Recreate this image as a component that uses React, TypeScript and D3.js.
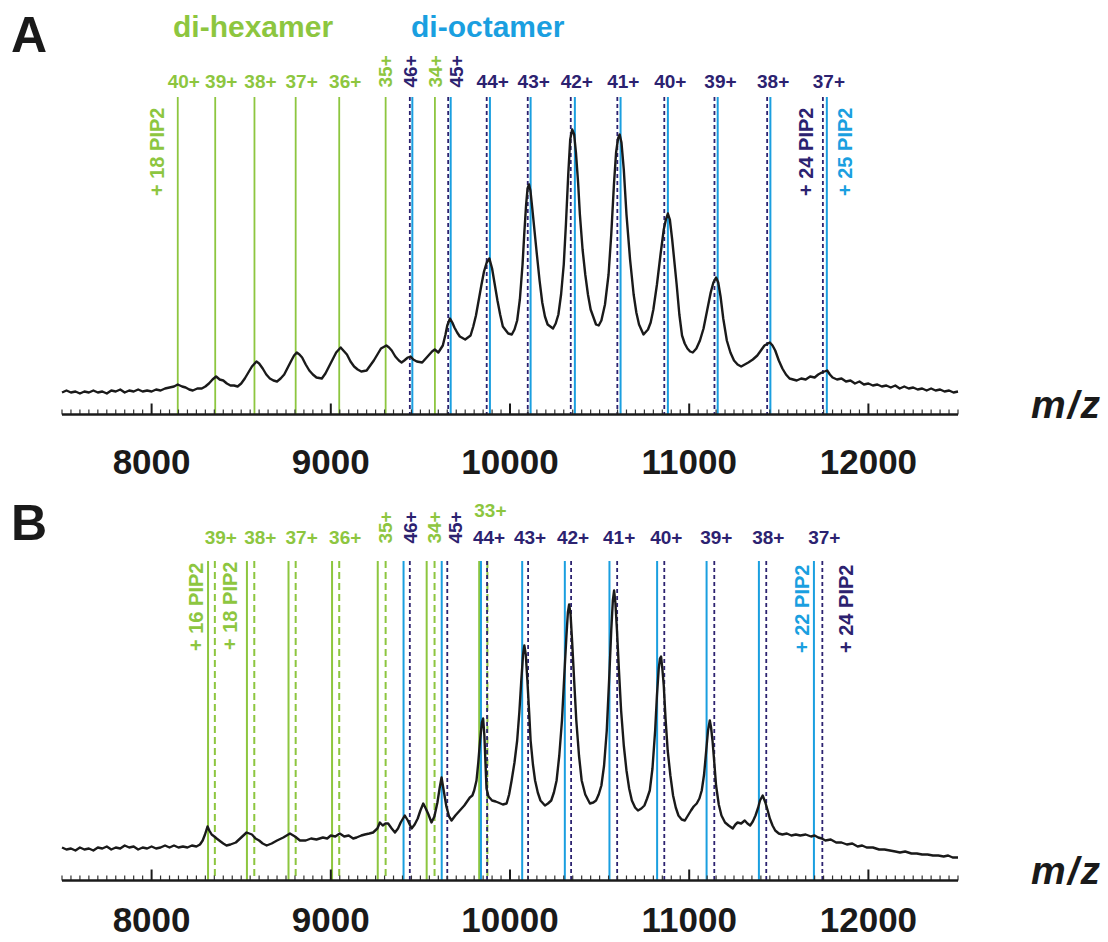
import React, { useEffect, useRef } from 'react';
import * as d3 from 'd3';

const GREEN = '#8dc63f';
const BLUE = '#1a9fe0';
const NAVY = '#2c2270';
const INK = '#1a1a1a';
const FONT = '"Liberation Sans", Arial, Helvetica, sans-serif';

// m/z axis
const mzDomain = [7500, 12500];
const majorTicks = [8000, 9000, 10000, 11000, 12000];
const minorStep = 50;

// charge states
const hexChargesA = [40, 39, 38, 37, 36, 35, 34];
const hexChargesB = [39, 38, 37, 36, 35, 34, 33];
const octCharges = [46, 45, 44, 43, 42, 41, 40, 39, 38, 37];

// panel A marker positions (m/z)
const hexA18 = [8146, 8355, 8574, 8804, 9047, 9306, 9581];
const octA24 = [9441, 9655, 9870, 10099, 10339, 10599, 10861, 11141, 11435, 11746];
const octA25 = [9455, 9669, 9888, 10115, 10362, 10617, 10881, 11159, 11453, 11768];

// panel B marker positions (m/z)
const hexB16 = [8315, 8532, 8764, 9007, 9262, 9535, 9828];
const hexB18 = [8353, 8573, 8804, 9047, 9306, 9579, 9874];
const octB22 = [9406, 9619, 9838, 10068, 10306, 10555, 10821, 11097, 11389, 11696];
const octB24 = [9441, 9650, 9872, 10101, 10341, 10598, 10861, 11140, 11430, 11743];

// spectra, [m/z, intensity (a.u.)]
const traceA: [number, number][] = [
  [7500, 22], [7525, 24], [7550, 22], [7575, 23], [7600, 21], [7625, 23], [7650, 22],
  [7675, 24], [7700, 22], [7725, 23], [7750, 21], [7775, 24], [7800, 23], [7825, 25],
  [7850, 22], [7875, 24], [7900, 23], [7925, 25], [7950, 23], [7975, 24], [8000, 23],
  [8025, 25], [8050, 24], [8075, 26], [8100, 27], [8125, 28], [8146, 30], [8170, 28],
  [8190, 27], [8210, 25], [8230, 24], [8255, 26], [8280, 26], [8300, 28], [8320, 31],
  [8340, 35], [8360, 38], [8380, 35], [8400, 34], [8420, 31], [8440, 29], [8460, 29],
  [8480, 28], [8500, 31], [8520, 36], [8540, 42], [8560, 48], [8585, 53], [8600, 51],
  [8620, 46], [8640, 40], [8660, 36], [8680, 34], [8700, 33], [8720, 36], [8740, 40],
  [8760, 47], [8780, 54], [8795, 59], [8810, 62], [8825, 60], [8840, 57], [8860, 50],
  [8880, 44], [8900, 40], [8920, 37], [8950, 36], [8970, 41], [8990, 48], [9010, 55],
  [9030, 62], [9055, 67], [9070, 64], [9090, 60], [9110, 53], [9130, 48], [9150, 45],
  [9170, 43], [9200, 44], [9220, 49], [9240, 54], [9260, 60], [9280, 66], [9310, 69],
  [9325, 67], [9340, 64], [9360, 58], [9380, 54], [9395, 52], [9410, 54], [9430, 57],
  [9445, 58], [9460, 55], [9480, 53], [9510, 52], [9530, 56], [9545, 59], [9565, 63],
  [9580, 65], [9600, 62], [9625, 69], [9640, 80], [9650, 89], [9665, 96], [9678, 92],
  [9690, 87], [9705, 82], [9720, 78], [9750, 75], [9780, 79], [9795, 88], [9810, 99],
  [9825, 114], [9840, 129], [9855, 143], [9870, 152], [9885, 156], [9900, 146],
  [9915, 130], [9930, 114], [9945, 100], [9960, 88], [9990, 81], [10010, 80], [10025, 85],
  [10040, 94], [10055, 115], [10070, 150], [10080, 182], [10090, 210], [10098, 226],
  [10106, 230], [10114, 224], [10125, 205], [10150, 160], [10165, 134], [10180, 112],
  [10195, 98], [10210, 90], [10240, 86], [10255, 91], [10270, 100], [10285, 120],
  [10300, 150], [10312, 190], [10325, 240], [10336, 275], [10347, 285], [10358, 280],
  [10368, 262], [10380, 232], [10390, 200], [10405, 165], [10420, 140], [10435, 120],
  [10450, 105], [10480, 90], [10495, 89], [10510, 94], [10530, 110], [10550, 140],
  [10565, 180], [10580, 230], [10592, 262], [10603, 276], [10612, 280], [10622, 272],
  [10635, 245], [10650, 200], [10670, 155], [10690, 120], [10705, 102], [10720, 90],
  [10745, 80], [10770, 85], [10785, 92], [10800, 105], [10820, 130], [10840, 160],
  [10858, 185], [10870, 195], [10881, 201], [10892, 195], [10905, 175], [10930, 130],
  [10945, 100], [10960, 79], [10975, 71], [10990, 66], [11005, 63], [11020, 62],
  [11040, 66], [11060, 74], [11080, 86], [11100, 104], [11120, 122], [11135, 132],
  [11150, 137], [11162, 132], [11175, 118], [11190, 96], [11210, 74], [11230, 62],
  [11250, 54], [11270, 50], [11290, 48], [11310, 50], [11330, 52], [11355, 55],
  [11380, 59], [11400, 64], [11420, 69], [11450, 72], [11465, 69], [11480, 64],
  [11500, 54], [11520, 46], [11540, 40], [11560, 36], [11580, 35], [11600, 34],
  [11625, 36], [11650, 35], [11675, 38], [11700, 37], [11720, 40], [11740, 42],
  [11770, 44], [11785, 40], [11800, 37], [11825, 35], [11850, 36], [11875, 33],
  [11900, 34], [11925, 31], [11950, 33], [11975, 30], [12000, 31], [12025, 29],
  [12050, 30], [12075, 28], [12100, 29], [12125, 27], [12150, 29], [12175, 26],
  [12200, 28], [12225, 26], [12250, 27], [12275, 25], [12300, 26], [12325, 24],
  [12350, 26], [12375, 24], [12400, 25], [12425, 23], [12450, 24], [12475, 22], [12500, 23],
];

const traceB: [number, number][] = [
  [7500, 33], [7525, 31], [7550, 32], [7575, 30], [7600, 33], [7625, 31], [7650, 32],
  [7675, 30], [7700, 33], [7725, 32], [7750, 34], [7775, 31], [7800, 33], [7825, 32],
  [7850, 35], [7875, 33], [7900, 34], [7925, 31], [7950, 33], [7975, 32], [8000, 34],
  [8025, 32], [8050, 33], [8075, 35], [8100, 33], [8125, 35], [8150, 33], [8175, 34],
  [8200, 33], [8225, 35], [8250, 34], [8270, 36], [8285, 40], [8298, 46], [8312, 54],
  [8322, 50], [8335, 46], [8350, 44], [8363, 42], [8385, 39], [8400, 37], [8418, 35],
  [8440, 36], [8470, 38], [8500, 43], [8530, 48], [8545, 47], [8560, 46], [8580, 42],
  [8600, 40], [8620, 37], [8642, 35], [8670, 37], [8700, 40], [8735, 43], [8772, 47],
  [8800, 44], [8828, 40], [8860, 40], [8890, 42], [8920, 41], [8956, 43], [8980, 42],
  [9000, 45], [9025, 44], [9050, 47], [9075, 44], [9100, 45], [9125, 42], [9144, 43],
  [9170, 45], [9190, 46], [9215, 47], [9236, 48], [9260, 52], [9274, 58], [9290, 55],
  [9305, 57], [9320, 57], [9340, 52], [9358, 48], [9375, 52], [9390, 58], [9413, 65],
  [9430, 60], [9451, 52], [9468, 56], [9485, 62], [9500, 70], [9516, 77], [9530, 72],
  [9545, 66], [9562, 58], [9578, 64], [9595, 78], [9607, 92], [9618, 103], [9630, 90],
  [9645, 74], [9660, 64], [9674, 60], [9695, 65], [9720, 70], [9745, 75], [9776, 83],
  [9790, 85], [9800, 90], [9813, 100], [9823, 118], [9833, 140], [9843, 158],
  [9850, 162], [9857, 145], [9863, 118], [9869, 92], [9880, 84], [9900, 80], [9920, 79],
  [9934, 78], [9960, 76], [9981, 77], [9995, 86], [10009, 100], [10025, 118],
  [10040, 140], [10052, 168], [10063, 200], [10073, 226], [10080, 235], [10088, 226],
  [10097, 200], [10107, 168], [10115, 140], [10128, 116], [10140, 100], [10155, 88],
  [10170, 80], [10195, 75], [10212, 77], [10230, 80], [10245, 88], [10260, 100],
  [10275, 125], [10290, 160], [10303, 205], [10315, 245], [10323, 268], [10330, 276],
  [10338, 266], [10347, 238], [10358, 200], [10370, 160], [10385, 125], [10400, 100],
  [10420, 86], [10446, 77], [10465, 78], [10480, 80], [10495, 86], [10510, 95],
  [10525, 115], [10540, 150], [10553, 200], [10565, 250], [10574, 280], [10581, 290],
  [10588, 278], [10597, 250], [10608, 210], [10620, 170], [10635, 135], [10650, 110],
  [10665, 92], [10680, 80], [10698, 73], [10714, 70], [10733, 72], [10750, 75],
  [10765, 82], [10780, 90], [10795, 112], [10810, 150], [10820, 185], [10830, 212],
  [10837, 222], [10843, 224], [10850, 212], [10858, 195], [10868, 162], [10880, 130],
  [10895, 105], [10910, 85], [10925, 73], [10940, 65], [10958, 61], [10976, 60],
  [10993, 65], [11010, 70], [11025, 74], [11042, 77], [11057, 82], [11070, 90],
  [11083, 106], [11095, 130], [11105, 150], [11115, 160], [11122, 153], [11130, 140],
  [11140, 118], [11150, 95], [11165, 76], [11180, 65], [11200, 58], [11220, 55],
  [11243, 52], [11258, 56], [11270, 58], [11290, 57], [11310, 60], [11325, 57],
  [11340, 55], [11355, 59], [11370, 65], [11385, 73], [11395, 80], [11410, 85],
  [11425, 78], [11438, 70], [11450, 62], [11465, 55], [11480, 50], [11500, 47],
  [11520, 46], [11545, 47], [11570, 45], [11595, 46], [11620, 45], [11650, 46],
  [11680, 44], [11700, 45], [11720, 43], [11740, 42], [11760, 40], [11790, 41],
  [11820, 38], [11850, 38], [11880, 36], [11910, 37], [11940, 34], [11965, 35],
  [11990, 33], [12025, 33], [12060, 31], [12090, 31], [12120, 30], [12150, 29],
  [12176, 28], [12205, 29], [12240, 27], [12270, 27], [12300, 26], [12330, 26],
  [12360, 25], [12390, 25], [12420, 24], [12445, 25], [12470, 23], [12500, 23],
];

type Series = { values: number[]; color: string; width: number; dash: string | null };
type Label = { text: string; mz: number; dx: number; y: number; color: string; rotated: boolean };

const x = d3.scaleLinear().domain(mzDomain).range([62, 958]);

const hexLabels = (charges: number[], mzs: number[], baseY: number): Label[] =>
  charges.map((z, i) => {
    const rotated = z === 35 || z === 34;
    return {
      text: `${z}+`, mz: mzs[i], color: GREEN, rotated,
      dx: rotated ? 0 : z === 33 ? 3 : 6,
      y: z === 33 ? baseY - 27 : baseY,
    };
  });

const octLabels = (mzs: number[], baseY: number, shift: number): Label[] =>
  octCharges.map((z, i) => {
    const rotated = z >= 45;
    return {
      text: `${z}+`, mz: mzs[i], color: NAVY, rotated,
      dx: z === 45 ? 8 : rotated ? 0 : shift, y: baseY,
    };
  });

const panels = [
  {
    letter: 'A', letterY: 52, axisY: 414.5, lineTop: 97, tickLabelY: 474, trace: traceA,
    series: [
      { values: hexA18, color: GREEN, width: 1.8, dash: null },
      { values: octA25, color: BLUE, width: 2, dash: null },
      { values: octA24, color: NAVY, width: 1.8, dash: '4,3' },
    ] as Series[],
    labels: [...hexLabels(hexChargesA, hexA18, 87.5), ...octLabels(octA24, 87.5, 6)],
    pip: [
      { text: '+ 18 PIP2', mz: hexA18[0], dx: -21, y: 196, color: GREEN },
      { text: '+ 24 PIP2', mz: octA24[9], dx: -17, y: 196, color: NAVY },
      { text: '+ 25 PIP2', mz: octA25[9], dx: 18, y: 196, color: BLUE },
    ],
  },
  {
    letter: 'B', letterY: 540, axisY: 880.5, lineTop: 561, tickLabelY: 932, trace: traceB,
    series: [
      { values: hexB16, color: GREEN, width: 2, dash: null },
      { values: hexB18, color: GREEN, width: 2, dash: '7,4' },
      { values: octB22, color: BLUE, width: 2, dash: null },
      { values: octB24, color: NAVY, width: 1.8, dash: '4,3' },
    ] as Series[],
    labels: [...hexLabels(hexChargesB, hexB18, 543.6), ...octLabels(octB24, 543.6, 2)],
    pip: [
      { text: '+ 16 PIP2', mz: hexB16[0], dx: -12.5, y: 651, color: GREEN },
      { text: '+ 18 PIP2', mz: hexB18[0], dx: 14.5, y: 650, color: GREEN },
      { text: '+ 22 PIP2', mz: octB22[9], dx: -12, y: 653, color: BLUE },
      { text: '+ 24 PIP2', mz: octB24[9], dx: 23, y: 653, color: NAVY },
    ],
  },
];

const App = () => {
  const svgRef = useRef<SVGSVGElement>(null);

  useEffect(() => {
    const svg = d3.select(svgRef.current);
    svg.selectAll('*').remove();
    svg.attr('width', 1108).attr('height', 942).style('font-family', FONT);

    svg.append('rect').attr('width', 1108).attr('height', 942).attr('fill', '#fff');

    // group headings
    svg.append('text').attr('x', 173).attr('y', 37).attr('fill', GREEN)
      .attr('font-size', 30).attr('font-weight', 'bold').text('di-hexamer');
    svg.append('text').attr('x', 411).attr('y', 37).attr('fill', BLUE)
      .attr('font-size', 30).attr('font-weight', 'bold').text('di-octamer');

    panels.forEach(p => {
      const g = svg.append('g');
      const y = d3.scaleLinear().domain([0, 300]).range([p.axisY, p.axisY - 300]);

      g.append('text').attr('x', 11).attr('y', p.letterY).attr('fill', INK)
        .attr('font-size', 50).attr('font-weight', 'bold').text(p.letter);

      // assignment lines
      p.series.forEach(s => {
        g.append('g').selectAll('line').data(s.values).join('line')
          .attr('x1', d => x(d)).attr('x2', d => x(d))
          .attr('y1', p.lineTop).attr('y2', p.axisY)
          .attr('stroke', s.color).attr('stroke-width', s.width)
          .attr('stroke-dasharray', s.dash);
      });

      // spectrum
      const line = d3.line<[number, number]>().x(d => x(d[0])).y(d => y(d[1]));
      g.append('path').datum(p.trace).attr('d', line).attr('fill', 'none')
        .attr('stroke', INK).attr('stroke-width', 2.4).attr('stroke-linejoin', 'round');

      // axis
      const minor = d3.range(mzDomain[0], mzDomain[1] + 1, minorStep).filter(v => !majorTicks.includes(v));
      g.append('g').selectAll('line').data(minor).join('line')
        .attr('x1', d => x(d)).attr('x2', d => x(d))
        .attr('y1', p.axisY).attr('y2', p.axisY - 5)
        .attr('stroke', '#333').attr('stroke-width', 1.2);
      g.append('g').selectAll('line').data(majorTicks).join('line')
        .attr('x1', d => x(d)).attr('x2', d => x(d))
        .attr('y1', p.axisY).attr('y2', p.axisY - 11)
        .attr('stroke', INK).attr('stroke-width', 2);
      g.append('line').attr('x1', x(mzDomain[0])).attr('x2', x(mzDomain[1]))
        .attr('y1', p.axisY).attr('y2', p.axisY)
        .attr('stroke', INK).attr('stroke-width', 2.6);
      g.append('g').selectAll('text').data(majorTicks).join('text')
        .attr('x', d => x(d)).attr('y', p.tickLabelY).attr('text-anchor', 'middle')
        .attr('font-size', 35).attr('font-weight', 'bold').attr('fill', INK)
        .text(d => d);
      g.append('text').attr('x', 1031).attr('y', p.axisY + 3)
        .attr('font-size', 39).attr('font-weight', 'bold').attr('font-style', 'italic')
        .attr('letter-spacing', 2).attr('fill', INK).text('m/z');

      // charge-state labels
      p.labels.forEach(l => {
        const cx = x(l.mz) + l.dx;
        const t = g.append('text').attr('fill', l.color).attr('font-size', 19)
          .attr('font-weight', 'bold').text(l.text);
        if (l.rotated) {
          t.attr('transform', `translate(${cx},${l.y}) rotate(-90)`).attr('dy', '0.36em');
        } else {
          t.attr('x', cx).attr('y', l.y).attr('text-anchor', 'middle');
        }
      });

      p.pip.forEach(l => {
        g.append('text').attr('fill', l.color).attr('font-size', 20).attr('font-weight', 'bold')
          .attr('transform', `translate(${x(l.mz) + l.dx},${l.y}) rotate(-90)`)
          .attr('dy', '0.36em').text(l.text);
      });
    });
  }, []);

  return <svg ref={svgRef} style={{ position: 'absolute', left: 0, top: 0 }}></svg>;
};

export default App;
